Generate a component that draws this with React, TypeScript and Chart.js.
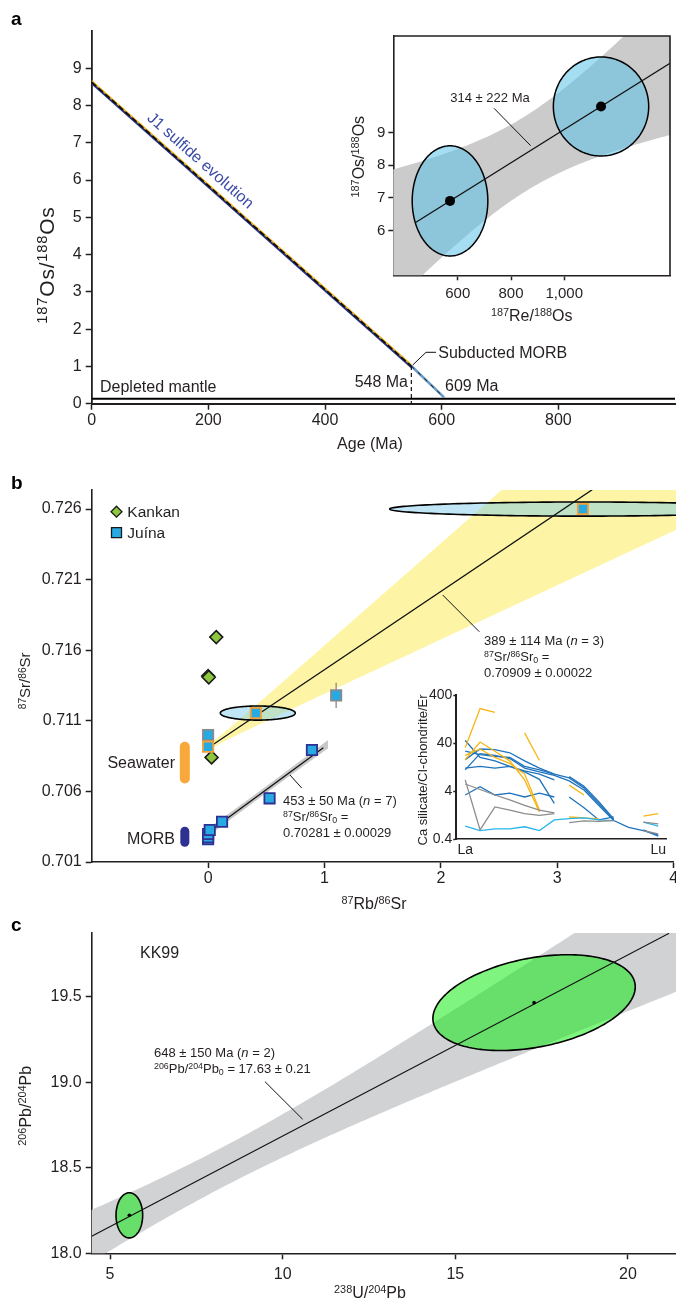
import React, { useEffect, useRef } from 'react';
import { Chart, registerables } from 'chart.js';

Chart.register(...registerables);

const FONT = "'Liberation Sans', Arial, Helvetica, sans-serif";
const INK = '#231f20';
Chart.defaults.font.family = FONT;
Chart.defaults.color = INK;

// ---------------- Panel a : main ----------------
const ageTicks = [0, 200, 400, 600, 800];
const osTicks = [0, 1, 2, 3, 4, 5, 6, 7, 8, 9];
const j1Age = [0, 548];
const j1Os = [8.63, 1.01];
const j1OsNavy = [8.6, 0.98];
const j1OsYellow = [8.665, 1.045];
const morbAge = [548, 604];
const morbOs = [1.01, 0.17];
const dmAge = [0, 1000];
const dmOs = [0.13, 0.13];
const dropAge = [548, 548];
const dropOs = [1.01, 0];

// ---------------- Panel a : inset ----------------
const reTicks = [600, 800, 1000];
const reTickLabels = ['600', '800', '1,000'];
const osInsetTicks = [6, 7, 8, 9];
const sulfideRe = [571, 1138];
const sulfideOs = [6.91, 9.79];
const sulfideSigRe = [142, 179];
const sulfideSigOs = [1.68, 1.51];
const reOsLineRe = [443, 1397];
const reOsLineOs = [6.26, 11.11];
const reOsBand = { a: 4.01, b: 0.00508, h0: 1.15, k: 0.00341, xc: 852, from: 350, to: 1400 };

// ---------------- Panel b ----------------
const rbTicks = [0, 1, 2, 3, 4];
const srTicks = [0.701, 0.706, 0.711, 0.716, 0.721, 0.726];
const kankanRb = [0.07, 0.0, 0.006, 0.03];
const kankanSr = [0.71693, 0.71417, 0.71408, 0.70841];
const juinaGrayRb = [0.0, 1.1];
const juinaGraySr = [0.70999, 0.7128];
const juinaOrangeRb = [0.0, 0.41, 3.22];
const juinaOrangeSr = [0.70917, 0.71155, 0.726];
const juinaNavyRb = [0.0, 0.0, 0.0, 0.014, 0.12, 0.528, 0.892];
const juinaNavySr = [0.70261, 0.70275, 0.70298, 0.70327, 0.70385, 0.70551, 0.70893];
const errRb = [1.1, 0.014, 0.12];
const errSr = [0.7128, 0.70327, 0.70385];
const errDRb = [0.04, 0.02, 0.045];
const errDSr = [0.0009, 0.0004, 0.0001];
const ellBRb = [0.427, 3.22];
const ellBSr = [0.71155, 0.726];
const ellBSigRb = [0.322, 1.66];
const ellBSigSr = [0.0005, 0.0005];
const seawaterSr = [0.70692, 0.70916];
const morbSr = [0.7024, 0.70318];
const barRb = [-0.2, -0.2];
const reg389Rb = [-0.03, 3.3];
const reg389Sr = [0.70892, 0.72737];
const band389 = { a: 0.70909, b: 0.00554, h0: 0.00022, k: 0.0017, xc: 0, from: -0.03, to: 4.1 };
const reg453Rb = [-0.03, 0.99];
const reg453Sr = [0.70291, 0.70909];
const band453 = { a: 0.7031, b: 0.00606, h0: 0.00024, k: 0.0003, xc: 0.45, from: -0.05, to: 1.03 };

// ---------------- Panel b : REE inset ----------------
const reeNames = ['La', 'Ce', 'Pr', 'Nd', 'Sm', 'Eu', 'Gd', 'Tb', 'Dy', 'Ho', 'Er', 'Tm', 'Yb', 'Lu'];
const reeTicks = [0.4, 4, 40, 400];
const N = null;
const reeOrange = [
  [32, 209, 173, N, N, N, N, N, N, N, N, N, N, N],
  [18, 42, 27, 17, 6.8, 1.46, N, N, N, N, N, N, N, N],
  [22, 30, 20, 15, 9, 1.6, N, N, N, N, N, N, N, N],
  [N, N, N, N, 65, 17.3, N, N, N, N, N, N, N, N],
  [N, N, N, N, N, N, N, 5.3, 3.3, N, N, N, N, N],
  [N, N, N, N, N, N, N, 1.15, 1.1, 1.05, N, N, N, N],
  [N, N, N, N, N, N, N, N, N, N, N, N, 1.2, 1.35],
];
const reeBlue = [
  [45, 20, 17, 13, 10, 7, 2.2, N, N, N, N, N, N, N],
  [27, 23, 21, 20, 13, 11, 9, 7.5, 4.6, 2.2, 1.0, N, N, N],
  [11, 24, 22, 19, 12, 10, 8.5, 6.5, 4.2, 2.0, 0.97, 0.7, 0.6, 0.48],
  [12, 13, 12, 13, 10.5, 9, 6.8, N, N, N, N, N, N, N],
  [18, 30, 29, 25, 17, 12, 9, N, N, N, N, N, N, N],
  [3.3, 4.9, 3.3, 3.6, 3.0, 3.6, 3.0, N, N, N, N, N, N, N],
  [N, N, N, N, N, N, N, 3.0, 1.8, 1.0, 1.15, N, N, N],
  [N, N, N, N, N, N, N, 8, 5, 2.4, 1.05, N, N, N],
  [N, N, N, N, N, N, N, N, N, N, N, N, 0.62, 0.46],
];
const reeGray = [
  [6.8, 0.62, 1.86, 1.6, 1.35, 1.24, 1.35, N, N, N, N, N, N, N],
  [5.6, 4.3, 3.3, 2.6, 2.0, 1.6, 1.4, N, N, N, N, N, N, N],
  [N, N, N, N, N, N, N, 0.88, 0.95, 0.93, 0.97, N, N, N],
  [N, N, N, N, N, N, N, N, N, N, N, N, 0.9, 0.83],
  [N, N, N, N, N, N, N, N, N, N, N, N, 0.6, 0.51],
];
const reeLight = [
  [0.74, 0.6, 0.65, 0.65, 0.72, 0.6, 1.0, 1.06, 1.1, 1.0, 0.97, N, N, N],
  [N, N, N, N, N, N, N, N, N, N, N, N, 0.9, 0.74],
];

// ---------------- Panel c ----------------
const uTicks = [5, 10, 15, 20];
const pbTicks = [18.0, 18.5, 19.0, 19.5];
const kkU = [5.56, 17.28];
const kkPb = [18.222, 19.465];
const kkSigU = [0.386, 2.93];
const kkSigPb = [0.132, 0.28];
const kkRho = [0, 0.33];
const isoCU = [4.47, 21.19];
const isoCPb = [18.1, 19.87];
const bandC = { a: 17.63, b: 0.1057, h0: 0.117, k: 0.026, xc: 8.18, from: 4.3, to: 22 };

// ---------------- helpers ----------------
type Seg = [string, string?];
type Area = { l: number; t: number; r: number; b: number };

const pts = (xs: number[], ys: (number | null)[]) => xs.map((x, i) => ({ x, y: ys[i] }));

function fontStr(size: number, kind?: string, weight = 'normal', supScale = 0.68) {
  const it = kind === 'i' ? 'italic ' : '';
  const s = kind === 'sup' || kind === 'sub' ? size * supScale : size;
  return `${it}${weight} ${s}px ${FONT}`;
}

function rich(ctx: CanvasRenderingContext2D, segs: Seg[], x: number, y: number, size: number,
  align: 'left' | 'center' | 'right' = 'left', rot = 0, color = INK, weight = 'normal',
  spacing = 0, supScale = 0.68) {
  ctx.save();
  ctx.translate(x, y);
  if (rot) ctx.rotate(rot);
  (ctx as any).letterSpacing = `${spacing}px`;
  let w = 0;
  for (const [t, k] of segs) { ctx.font = fontStr(size, k, weight, supScale); w += ctx.measureText(t).width; }
  let cx = align === 'center' ? -w / 2 : align === 'right' ? -w : 0;
  const base = size * 0.36;
  ctx.fillStyle = color;
  ctx.textAlign = 'left';
  ctx.textBaseline = 'alphabetic';
  for (const [t, k] of segs) {
    ctx.font = fontStr(size, k, weight, supScale);
    const dy = k === 'sup' ? -size * 0.3 : k === 'sub' ? size * 0.18 : 0;
    ctx.fillText(t, cx, base + dy);
    cx += ctx.measureText(t).width;
  }
  ctx.restore();
}

function poly(ctx: CanvasRenderingContext2D, p: number[][], color = INK, w = 1, dash: number[] = []) {
  ctx.save();
  ctx.strokeStyle = color; ctx.lineWidth = w; ctx.setLineDash(dash);
  ctx.beginPath();
  p.forEach(([x, y], i) => (i ? ctx.lineTo(x, y) : ctx.moveTo(x, y)));
  ctx.stroke();
  ctx.restore();
}

function band(chart: any, p: any, color: string, clip: number[]) {
  const { ctx, scales: { x, y } } = chart;
  const hw = (v: number) => Math.sqrt(p.h0 * p.h0 + (p.k * (v - p.xc)) ** 2);
  const n = 160;
  ctx.save();
  ctx.beginPath(); ctx.rect(clip[0], clip[1], clip[2], clip[3]); ctx.clip();
  ctx.beginPath();
  for (let i = 0; i <= n; i++) {
    const v = p.from + (p.to - p.from) * i / n;
    const px = x.getPixelForValue(v), py = y.getPixelForValue(p.a + p.b * v + hw(v));
    i ? ctx.lineTo(px, py) : ctx.moveTo(px, py);
  }
  for (let i = n; i >= 0; i--) {
    const v = p.from + (p.to - p.from) * i / n;
    ctx.lineTo(x.getPixelForValue(v), y.getPixelForValue(p.a + p.b * v - hw(v)));
  }
  ctx.closePath();
  ctx.fillStyle = color; ctx.fill();
  ctx.restore();
}

function ellipse(chart: any, cx: number, cy: number, sx: number, sy: number, rho: number, fill: string, lw = 1.5) {
  const { ctx, scales: { x, y } } = chart;
  const q = Math.sqrt(1 - rho * rho);
  ctx.save();
  ctx.beginPath();
  for (let i = 0; i <= 180; i++) {
    const t = (i / 180) * Math.PI * 2;
    const px = x.getPixelForValue(cx + sx * Math.cos(t));
    const py = y.getPixelForValue(cy + sy * (rho * Math.cos(t) + q * Math.sin(t)));
    i ? ctx.lineTo(px, py) : ctx.moveTo(px, py);
  }
  ctx.closePath();
  ctx.fillStyle = fill; ctx.fill();
  ctx.strokeStyle = '#000'; ctx.lineWidth = lw; ctx.stroke();
  ctx.restore();
}

function axis(kind: 'x' | 'y', o: any) {
  return {
    type: o.type || 'linear',
    position: kind === 'x' ? 'bottom' : 'left',
    min: o.min, max: o.max,
    afterBuildTicks: (s: any) => { s.ticks = o.ticks.map((v: number) => ({ value: v })); },
    afterFit: (s: any) => {
      if (kind === 'x') { s.height = o.size; s.paddingLeft = 0; s.paddingRight = 0; }
      else { s.width = o.size; s.paddingTop = 0; s.paddingBottom = 0; }
    },
    ticks: {
      font: { size: o.font || 16, family: FONT }, color: INK, padding: o.pad ?? 4,
      callback: o.fmt || ((v: number) => String(v)), maxRotation: 0, minRotation: 0, autoSkip: false,
    },
    grid: {
      display: true, drawOnChartArea: false, drawTicks: o.tickLen !== 0,
      tickLength: o.tickLen ?? 6, tickColor: INK, tickWidth: o.tw ?? 1.5,
    },
    border: { display: true, color: INK, width: o.bw ?? 1.6 },
    title: { display: false },
  };
}

function build(canvas: HTMLCanvasElement, cw: number, ch: number, area: Area, datasets: any[],
  xo: any, yo: any, plugin: any) {
  return new Chart(canvas, {
    type: 'scatter',
    data: { datasets },
    options: {
      responsive: false, animation: false, devicePixelRatio: 1, events: [],
      layout: { autoPadding: false, padding: { left: 0, top: area.t, right: cw - area.r, bottom: 0 } },
      plugins: { legend: { display: false }, tooltip: { enabled: false }, title: { display: false } },
      scales: {
        x: axis('x', { ...xo, size: ch - area.b }),
        y: axis('y', { ...yo, size: area.l }),
      },
    } as any,
    plugins: [plugin],
  });
}

const lineDs = (xs: number[], ys: (number | null)[], color: string, width: number, extra: any = {}) => ({
  data: pts(xs, ys), showLine: true, pointRadius: 0, borderColor: color, borderWidth: width, fill: false, ...extra,
});
const ptDs = (xs: number[], ys: number[], style: string, r: number, fill: string, stroke: string, bw: number, order = 0) => ({
  data: pts(xs, ys), showLine: false, pointStyle: style, pointRadius: r, backgroundColor: fill,
  borderColor: stroke, borderWidth: bw, order,
});

// ---------------- chart builders ----------------
function buildA(cv: HTMLCanvasElement) {
  const cw = 676, ch = 460;
  const area = { l: 91.7, t: 31, r: 675, b: 403.7 };
  const ds = [
    lineDs(dmAge, dmOs, '#000', 2, { order: 5 }),
    lineDs(j1Age, j1OsYellow, '#f5b310', 1.6, { order: 4 }),
    lineDs(j1Age, j1OsNavy, '#26327f', 2.2, { order: 4 }),
    lineDs(j1Age, j1Os, '#0d0d0d', 1.7, { borderDash: [6, 3], order: 2 }),
    lineDs(morbAge, morbOs, '#6b9bc8', 2.6, { order: 4 }),
    lineDs(morbAge, morbOs, '#111', 1, { borderDash: [4, 5], order: 2 }),
    lineDs(dropAge, dropOs, '#111', 1.2, { borderDash: [4, 3], order: 2 }),
  ];
  const plugin = {
    id: 'pa',
    afterDraw(c: any) {
      const ctx = c.ctx;
      rich(ctx, [['a']], 11, 18.5, 19, 'left', 0, '#000', 'bold');
      rich(ctx, [['187', 'sup'], ['Os/'], ['188', 'sup'], ['Os']], 46, 265, 21, 'center', -Math.PI / 2, INK, 'normal', 0.8, 0.7);
      rich(ctx, [['Age (Ma)']], 370, 443.3, 16, 'center');
      rich(ctx, [['J1 sulfide evolution']], 201, 160, 16, 'center', (41.5 * Math.PI) / 180, '#3b4ba5');
      rich(ctx, [['Depleted mantle']], 100, 386, 16);
      rich(ctx, [['Subducted MORB']], 438.3, 352.3, 16);
      poly(ctx, [[412.7, 365], [426, 352.3], [436, 352.3]], '#111', 1);
      rich(ctx, [['548 Ma']], 408, 381.7, 16, 'right');
      rich(ctx, [['609 Ma']], 445, 385, 16);
    },
  };
  return build(cv, cw, ch, area, ds,
    { min: 0, max: 1000, ticks: ageTicks, pad: 1, bw: 2 },
    { min: 0, max: 10, ticks: osTicks, pad: 4, bw: 1.8 }, plugin);
}

function buildAInset(cv: HTMLCanvasElement) {
  const cw = 336, ch = 310;
  const area = { l: 53.3, t: 16, r: 330, b: 255.3 };
  const ds = [
    lineDs(reOsLineRe, reOsLineOs, '#111', 1.3, { order: 3 }),
    ptDs(sulfideRe, sulfideOs, 'circle', 5, '#000', '#000', 0, 0),
  ];
  const plugin = {
    id: 'pai',
    beforeDatasetsDraw(c: any) {
      const a = c.chartArea;
      band(c, reOsBand, '#cbcbcb', [a.left, a.top, a.right - a.left, a.bottom - a.top]);
      for (let i = 0; i < sulfideRe.length; i++) {
        ellipse(c, sulfideRe[i], sulfideOs[i], sulfideSigRe[i], sulfideSigOs[i], 0, 'rgba(91,193,231,0.55)');
      }
    },
    afterDraw(c: any) {
      const ctx = c.ctx, a = c.chartArea;
      poly(ctx, [[a.left, a.top], [a.right, a.top], [a.right, a.bottom]], INK, 1.6);
      rich(ctx, [['187', 'sup'], ['Os/'], ['188', 'sup'], ['Os']], 18, 136.7, 16, 'center', -Math.PI / 2);
      rich(ctx, [['187', 'sup'], ['Re/'], ['188', 'sup'], ['Os']], 191.7, 295, 16, 'center');
      rich(ctx, [['314 ± 222 Ma']], 150, 77.3, 13, 'center');
      poly(ctx, [[154, 88.3], [190.7, 125.7]], '#111', 1);
    },
  };
  return build(cv, cw, ch, area, ds,
    { min: 358, max: 1397, ticks: reTicks, pad: 5, tickLen: 5, font: 15, fmt: (v: number) => reTickLabels[reTicks.indexOf(v)] },
    { min: 4.64, max: 11.94, ticks: osInsetTicks, pad: 3, tickLen: 5, font: 15 }, plugin);
}

function buildB(cv: HTMLCanvasElement) {
  const cw = 676, ch = 460;
  const area = { l: 91.7, t: 30, r: 673.7, b: 402 };
  const ds = [
    lineDs(barRb, seawaterSr, '#f9a93b', 10, { borderCapStyle: 'round', order: 6 }),
    lineDs(barRb, morbSr, '#2e3192', 9, { borderCapStyle: 'round', order: 6 }),
    lineDs(reg389Rb, reg389Sr, '#111', 1.3, { order: 4 }),
    lineDs(reg453Rb, reg453Sr, '#111', 1.3, { order: 4 }),
    ptDs(kankanRb, kankanSr, 'rectRot', 6.5, '#8dc63f', '#1a1a1a', 1.5, 1),
    ptDs(juinaGrayRb, juinaGraySr, 'rect', 7.3, '#27aae1', '#858b90', 1.8, 1),
    ptDs(juinaOrangeRb, juinaOrangeSr, 'rect', 7.3, '#27aae1', '#f4a23a', 1.8, 0),
    ptDs(juinaNavyRb, juinaNavySr, 'rect', 7.3, '#27aae1', '#2e3192', 1.8, 0),
  ];
  const plugin = {
    id: 'pb',
    beforeDatasetsDraw(c: any) {
      const { ctx, chartArea: a, scales: { x, y } } = c;
      band(c, band389, '#fdf5a5', [a.left, a.top, cw - a.left, a.bottom - a.top]);
      band(c, band453, '#c8c8c8', [a.left, a.top, cw - a.left, a.bottom - a.top]);
      for (let i = 0; i < ellBRb.length; i++) {
        ellipse(c, ellBRb[i], ellBSr[i], ellBSigRb[i], ellBSigSr[i], 0, 'rgba(121,202,234,0.47)', 1.6);
      }
      for (let i = 0; i < errRb.length; i++) {
        const px = x.getPixelForValue(errRb[i]), py = y.getPixelForValue(errSr[i]);
        poly(ctx, [[x.getPixelForValue(errRb[i] - errDRb[i]), py], [x.getPixelForValue(errRb[i] + errDRb[i]), py]], '#8a8a8a', 1.3);
        poly(ctx, [[px, y.getPixelForValue(errSr[i] - errDSr[i])], [px, y.getPixelForValue(errSr[i] + errDSr[i])]], '#8a8a8a', 1.3);
      }
    },
    afterDraw(c: any) {
      const ctx = c.ctx;
      rich(ctx, [['b']], 11, 22, 19, 'left', 0, '#000', 'bold');
      // legend
      ctx.save();
      ctx.beginPath();
      ctx.moveTo(116.5, 46.2); ctx.lineTo(122, 51.7); ctx.lineTo(116.5, 57.2); ctx.lineTo(111, 51.7); ctx.closePath();
      ctx.fillStyle = '#8dc63f'; ctx.fill(); ctx.strokeStyle = '#1a1a1a'; ctx.lineWidth = 1.3; ctx.stroke();
      ctx.beginPath(); ctx.rect(111.5, 67.7, 10, 10);
      ctx.fillStyle = '#27aae1'; ctx.fill(); ctx.strokeStyle = '#1a1a1a'; ctx.stroke();
      ctx.restore();
      rich(ctx, [['Kankan']], 127.3, 51.7, 15.5);
      rich(ctx, [['Juína']], 127.3, 72.7, 15.5);
      rich(ctx, [['Seawater']], 175, 302.7, 16, 'right');
      rich(ctx, [['MORB']], 175, 378.3, 16, 'right');
      rich(ctx, [['389 ± 114 Ma ('], ['n', 'i'], [' = 3)']], 484, 180, 13);
      rich(ctx, [['87', 'sup'], ['Sr/'], ['86', 'sup'], ['Sr'], ['0', 'sub'], [' =']], 484, 196, 13);
      rich(ctx, [['0.70909 ± 0.00022']], 484, 212, 13);
      poly(ctx, [[442.7, 135], [479.3, 171.7]], '#111', 1);
      rich(ctx, [['453 ± 50 Ma ('], ['n', 'i'], [' = 7)']], 283, 340, 13);
      rich(ctx, [['87', 'sup'], ['Sr/'], ['86', 'sup'], ['Sr'], ['0', 'sub'], [' =']], 283, 356, 13);
      rich(ctx, [['0.70281 ± 0.00029']], 283, 372, 13);
      poly(ctx, [[290, 315], [301.7, 328]], '#111', 1);
      rich(ctx, [['87', 'sup'], ['Sr/'], ['86', 'sup'], ['Sr']], 25, 220.8, 15, 'center', -Math.PI / 2);
      rich(ctx, [['87', 'sup'], ['Rb/'], ['86', 'sup'], ['Sr']], 374, 443.3, 16, 'center');
    },
  };
  return build(cv, cw, ch, area, ds,
    { min: -1, max: 4, ticks: rbTicks, pad: 1 },
    { min: 0.701, max: 0.72735, ticks: srTicks, pad: 4, fmt: (v: number) => v.toFixed(3) }, plugin);
}

function buildBInset(cv: HTMLCanvasElement) {
  const cw = 281, ch = 185;
  const area = { l: 61.3, t: 10, r: 271.7, b: 154 };
  const idx = reeNames.map((_, i) => i);
  const ds: any[] = [];
  reeGray.forEach((s) => ds.push(lineDs(idx, s, '#8c8c8c', 1.3)));
  reeLight.forEach((s) => ds.push(lineDs(idx, s, '#27b5ee', 1.3)));
  reeOrange.forEach((s) => ds.push(lineDs(idx, s, '#f7b514', 1.3)));
  reeBlue.forEach((s) => ds.push(lineDs(idx, s, '#1f73bd', 1.3)));
  const plugin = {
    id: 'pbi',
    afterDraw(c: any) {
      rich(c.ctx, [['Ca silicate/CI-chondrite/Er']], 27.7, 85, 13, 'center', -Math.PI / 2);
    },
  };
  return build(cv, cw, ch, area, ds,
    { min: -0.6, max: 13.57, ticks: [0, 13], pad: 3, tickLen: 0, font: 14, fmt: (v: number) => reeNames[v] },
    { type: 'logarithmic', min: 0.4, max: 400, ticks: reeTicks, pad: 1, tickLen: 3, font: 14, bw: 2 }, plugin);
}

function buildC(cv: HTMLCanvasElement) {
  const cw = 676, ch = 419;
  const area = { l: 91.7, t: 53, r: 676, b: 373.3 };
  const ds = [
    lineDs(isoCU, isoCPb, '#111', 1.2, { order: 3 }),
    ptDs(kkU, kkPb, 'circle', 1.8, '#000', '#000', 0, 0),
  ];
  const plugin = {
    id: 'pc',
    beforeDatasetsDraw(c: any) {
      const a = c.chartArea;
      band(c, bandC, '#d1d2d4', [a.left, a.top, a.right - a.left, a.bottom - a.top]);
      for (let i = 0; i < kkU.length; i++) {
        ellipse(c, kkU[i], kkPb[i], kkSigU[i], kkSigPb[i], kkRho[i], 'rgba(0,235,0,0.5)', 1.6);
      }
    },
    afterDraw(c: any) {
      const ctx = c.ctx;
      rich(ctx, [['c']], 11, 44.5, 19, 'left', 0, '#000', 'bold');
      rich(ctx, [['KK99']], 140, 72.7, 16);
      rich(ctx, [['648 ± 150 Ma ('], ['n', 'i'], [' = 2)']], 154, 172.3, 13);
      rich(ctx, [['206', 'sup'], ['Pb/'], ['204', 'sup'], ['Pb'], ['0', 'sub'], [' = 17.63 ± 0.21']], 154, 188.3, 13);
      poly(ctx, [[265, 201.7], [302.7, 239.3]], '#111', 1);
      rich(ctx, [['206', 'sup'], ['Pb/'], ['204', 'sup'], ['Pb']], 25, 225.8, 16, 'center', -Math.PI / 2);
      rich(ctx, [['238', 'sup'], ['U/'], ['204', 'sup'], ['Pb']], 370, 412.3, 16, 'center');
    },
  };
  return build(cv, cw, ch, area, ds,
    { min: 4.47, max: 21.39, ticks: uTicks, pad: 6 },
    { min: 18.0, max: 19.872, ticks: pbTicks, pad: 4, fmt: (v: number) => v.toFixed(1) }, plugin);
}

export default function App() {
  const rA = useRef<HTMLCanvasElement>(null);
  const rAi = useRef<HTMLCanvasElement>(null);
  const rB = useRef<HTMLCanvasElement>(null);
  const rBi = useRef<HTMLCanvasElement>(null);
  const rC = useRef<HTMLCanvasElement>(null);

  useEffect(() => {
    const charts = [
      buildA(rA.current!),
      buildAInset(rAi.current!),
      buildB(rB.current!),
      buildBInset(rBi.current!),
      buildC(rC.current!),
    ];
    return () => charts.forEach((c) => c.destroy());
  }, []);

  const cv = (ref: any, l: number, t: number, w: number, h: number) => (
    <canvas ref={ref} width={w} height={h}
      style={{ position: 'absolute', left: l, top: t, width: w, height: h, display: 'block' }} />
  );

  return (
    <div style={{ position: 'absolute', left: 0, top: 0, width: 676, height: 1299, background: '#fff', overflow: 'hidden' }}>
      {cv(rA, 0, 0, 676, 460)}
      {cv(rAi, 340, 20, 336, 310)}
      {cv(rB, 0, 460, 676, 460)}
      {cv(rBi, 395, 685, 281, 185)}
      {cv(rC, 0, 880, 676, 419)}
    </div>
  );
}
